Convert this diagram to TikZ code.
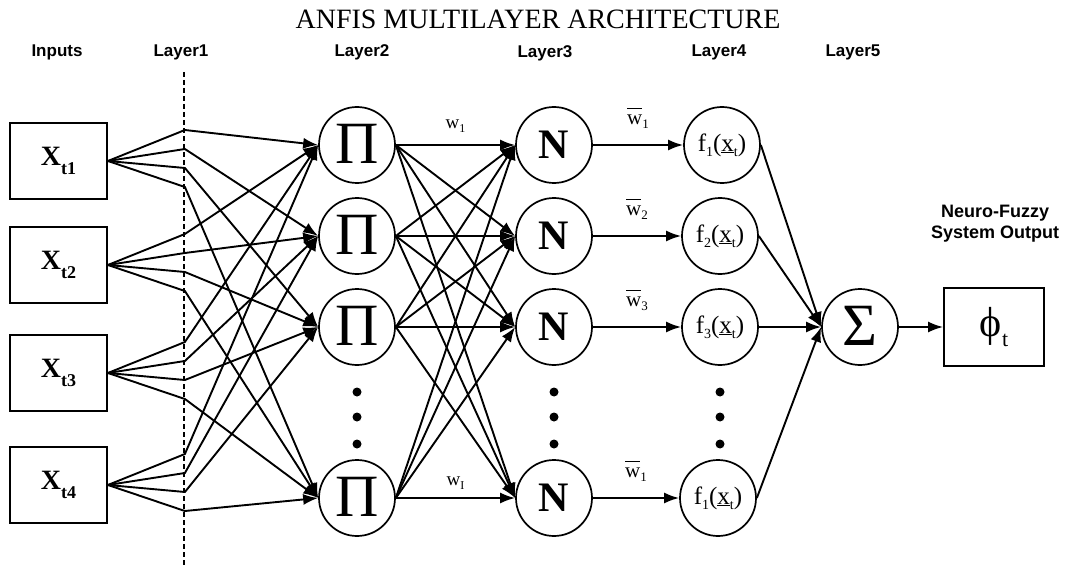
\documentclass[tikz,border=0pt]{standalone}
\usepackage{fontspec}
\setmainfont{Liberation Serif}
\newfontfamily\lsans{Liberation Sans}
\usetikzlibrary{arrows.meta,calc}
\newcommand\fs[1]{\fontsize{#1}{#1}\selectfont}
\newcommand\xlbl[1]{\bfseries X\raisebox{-9pt}{\fs{18}t#1}}
\newcommand\flbl[1]{f\raisebox{-5pt}{\fs{14}#1}(\underline{x}\raisebox{-5pt}{\fs{14}t})}
\newcommand\wbar[1]{$\overline{\vphantom{\Big(}\hbox{w}}$\raisebox{-4pt}{\fs{13}#1}}
\newcommand\wlbl[1]{w\raisebox{-4pt}{\fs{12}#1}}
\begin{document}
\begin{tikzpicture}[x=1pt,y=-1pt,
  inbox/.style={draw,line width=1.8pt,minimum width=97pt,minimum height=76pt,inner sep=0pt,font=\fs{28}},
  neuron/.style={draw,circle,line width=1.7pt,minimum size=76pt,inner sep=0pt},
  conn/.style={line width=1.9pt,-{Latex[length=15pt,width=11pt]}},
  layerlbl/.style={font=\lsans\bfseries\fs{17}},
  dotnode/.style={circle,fill,inner sep=0pt,minimum size=9pt},
  wl/.style={font=\fs{19},inner sep=0pt}]
\useasboundingbox (0,0) rectangle (1066,567);

% headings
\node[font=\fs{28}] (title) at (538,19) {ANFIS MULTILAYER ARCHITECTURE};
\node[layerlbl] (linp) at (57,52) {Inputs};
\node[layerlbl] (l1) at (181,52) {Layer1};
\node[layerlbl] (l2) at (362,52) {Layer2};
\node[layerlbl] (l3) at (545,53) {Layer3};
\node[layerlbl] (l4) at (719,52) {Layer4};
\node[layerlbl] (l5) at (853,52) {Layer5};
\node[layerlbl,align=center,font=\lsans\bfseries\fs{18}] (nfs) at (995,224) {Neuro-Fuzzy\\[3pt]System Output};

% dashed separator
\coordinate (dtop) at (184,72);
\coordinate (dbot) at (184,566);
\draw[line width=1.4pt,dash pattern=on 5pt off 3pt] (dtop) -- (dbot);

% inputs
\node[inbox] (x1) at (58.5,161) {\xlbl{1}};
\node[inbox] (x2) at (58.5,265) {\xlbl{2}};
\node[inbox] (x3) at (58.5,373) {\xlbl{3}};
\node[inbox] (x4) at (58.5,485) {\xlbl{4}};

% layer 2 product nodes and layer 3 normalisation nodes
\foreach \k/\y in {1/145,2/236,3/327,4/498}{
  \node[neuron,font=\fs{60}] (p\k) at (357,\y) {\raisebox{2pt}{Π}};
  \node[neuron,font=\bfseries\fs{42}] (n\k) at (554,\y) {N};
}
\node[neuron,font=\fs{25}] (f1) at (722,145) {\flbl{1}};
\node[neuron,font=\fs{25}] (f2) at (720,236) {\flbl{2}};
\node[neuron,font=\fs{25}] (f3) at (720,327) {\flbl{3}};
\node[neuron,font=\fs{25}] (f4) at (718,498) {\flbl{1}};
\node[neuron,font=\fs{60}] (s) at (860,327) {\raisebox{3pt}{Σ}};
\node[draw,line width=1.8pt,minimum width=100pt,minimum height=78pt,inner sep=0pt,font=\fs{42}] (o) at (994,327) {ϕ\raisebox{-10pt}{\fs{22}t}};

% dots
\foreach \x/\n in {357/a,554/b,720/c}{
  \foreach \y/\m in {392/1,417/2,444/3}{
    \node[dotnode] (dot\n\m) at (\x,\y) {};
  }
}

% layer 1 connections
\foreach \i in {1,...,4}{
  \foreach \k/\o in {1/-31,2/-12,3/7,4/26}{
    \draw[conn] (x\i.east) -- ($(x\i.east)+(77,\o)$) -- (p\k.west);
  }
}

% layer 2 connections
\foreach \i in {1,...,4}{
  \foreach \j in {1,...,4}{
    \draw[conn] (p\i.east) -- (n\j.west);
  }
}
\path (p1.east) -- node[wl,above=12pt] {\wlbl{1}} (n1.west);
\path (p4.east) -- node[wl,above=8pt] {\wlbl{I}} (n4.west);

% layer 3 connections
\draw[conn] (n1.east) -- node[wl,above=14pt,font=\fs{21}] {\wbar{1}} (f1.west);
\draw[conn] (n2.east) -- node[wl,above=14pt,font=\fs{21}] {\wbar{2}} (f2.west);
\draw[conn] (n3.east) -- node[wl,above=14pt,font=\fs{21}] {\wbar{3}} (f3.west);
\draw[conn] (n4.east) -- node[wl,above=14pt,font=\fs{21}] {\wbar{1}} (f4.west);

% layer 4 and output
\foreach \i in {1,...,4}{
  \draw[conn] (f\i.east) -- (s.west);
}
\draw[conn] (s.east) -- (o.west);
\end{tikzpicture}
\end{document}
